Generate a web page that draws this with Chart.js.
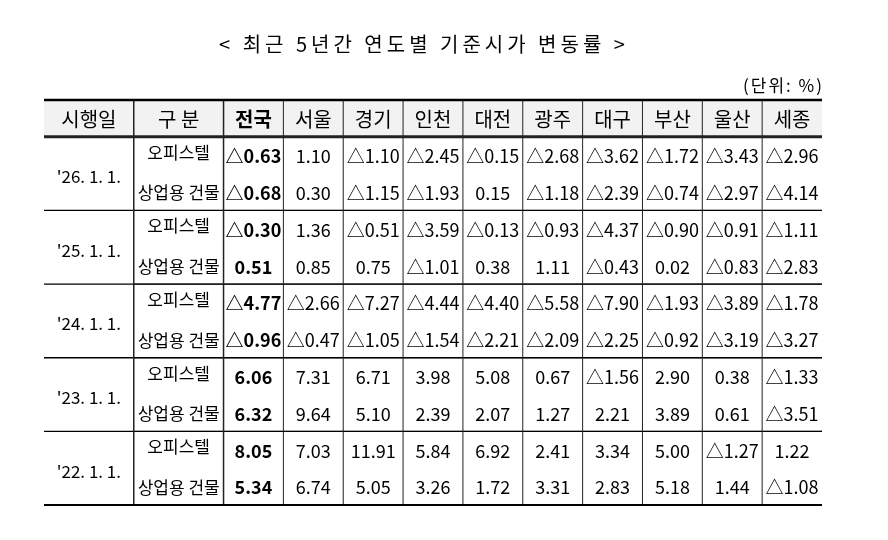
<!DOCTYPE html>
<html><head><meta charset="utf-8">
<script src="https://cdn.jsdelivr.net/npm/chart.js@4/dist/chart.umd.min.js"></script>
<style>body{margin:0;background:#fff}</style></head>
<body><canvas id="c" width="888" height="540"></canvas>
<script>
const title = "< 최근 5년간 연도별 기준시가 변동률 >";
const unitLabel = "(단위: %)";
const headers = ["시행일","구 분","전국","서울","경기","인천","대전","광주","대구","부산","울산","세종"];
const dates = ["'26. 1. 1.","'25. 1. 1.","'24. 1. 1.","'23. 1. 1.","'22. 1. 1."];
const kinds = ["오피스텔","상업용 건물"];
const off26 = [-0.63,1.10,-1.10,-2.45,-0.15,-2.68,-3.62,-1.72,-3.43,-2.96];
const com26 = [-0.68,0.30,-1.15,-1.93,0.15,-1.18,-2.39,-0.74,-2.97,-4.14];
const off25 = [-0.30,1.36,-0.51,-3.59,-0.13,-0.93,-4.37,-0.90,-0.91,-1.11];
const com25 = [0.51,0.85,0.75,-1.01,0.38,1.11,-0.43,0.02,-0.83,-2.83];
const off24 = [-4.77,-2.66,-7.27,-4.44,-4.40,-5.58,-7.90,-1.93,-3.89,-1.78];
const com24 = [-0.96,-0.47,-1.05,-1.54,-2.21,-2.09,-2.25,-0.92,-3.19,-3.27];
const off23 = [6.06,7.31,6.71,3.98,5.08,0.67,-1.56,2.90,0.38,-1.33];
const com23 = [6.32,9.64,5.10,2.39,2.07,1.27,2.21,3.89,0.61,-3.51];
const off22 = [8.05,7.03,11.91,5.84,6.92,2.41,3.34,5.00,-1.27,1.22];
const com22 = [5.34,6.74,5.05,3.26,1.72,3.31,2.83,5.18,1.44,-1.08];
const rows = [off26,com26,off25,com25,off24,com24,off23,com23,off22,com22];

const colEdges = [0,1.5,3,4,5,6,7,8,9,10,11,12,13];
const F = '"Noto Sans CJK KR", "Noto Sans", sans-serif';
const fmt = v => (v<0?'△':'') + Math.abs(v).toFixed(2);

const tablePlugin = {
  id:'table',
  afterDraw(chart){
    const ctx = chart.ctx, xs = chart.scales.x, ys = chart.scales.y;
    const X = v => xs.getPixelForValue(v), Y = v => ys.getPixelForValue(v);
    ctx.save();
    ctx.fillStyle = '#f2f2f2';
    ctx.fillRect(X(0), Y(0), X(13)-X(0), Y(1)-Y(0));
    ctx.fillStyle = '#000'; ctx.textBaseline='middle';
    ctx.font = '20px '+F; ctx.textAlign='center';
    ctx.letterSpacing = '4px';
    ctx.fillText(title, 424, 44);
    ctx.letterSpacing = '2px';
    ctx.font = '17px '+F; ctx.textAlign='right';
    ctx.fillText(unitLabel, 824, 86);
    ctx.letterSpacing = '0px';
    const hline = (y,x0,x1,w,c)=>{ctx.strokeStyle=c;ctx.lineWidth=w;ctx.beginPath();ctx.moveTo(X(x0),Y(y));ctx.lineTo(X(x1),Y(y));ctx.stroke();};
    for(let r=2;r<=10;r+=2){ hline(r+1,1.5,13,1,'#222'); }
    for(let r=3;r<=9;r+=2){ hline(r,0,13,1.3,'#000'); }
    colEdges.slice(1,-1).forEach(c=>{
      ctx.strokeStyle = '#222'; ctx.lineWidth = c<=3?1.5:1;
      ctx.beginPath(); ctx.moveTo(X(c),Y(0)); ctx.lineTo(X(c),Y(11)); ctx.stroke();
    });
    hline(0,0,13,2.5,'#000');
    hline(1,0,13,3,'#222');
    hline(11,0,13,2,'#000');
    ctx.textAlign='center';
    headers.forEach((h,i)=>{
      ctx.font = (i===2?'bold ':'')+'20px '+F;
      ctx.fillText(h,(X(colEdges[i])+X(colEdges[i+1]))/2, Y(0.5)+1);
    });
    ctx.font = '17px '+F;
    dates.forEach((d,i)=>ctx.fillText(d,(X(0)+X(1.5))/2, Y(2*i+2)+3));
    rows.forEach((row,r)=>{
      const yc = Y(r+1.5)+1;
      ctx.font = '17px '+F;
      ctx.fillText(kinds[r%2],(X(1.5)+X(3))/2, yc - (r%2?0:4));
      row.forEach((v,i)=>{
        ctx.font = (i===0?'bold ':'')+'18px '+F;
        ctx.fillText(fmt(v),(X(colEdges[i+2])+X(colEdges[i+3]))/2, yc);
      });
    });
    ctx.restore();
  }
};

new Chart(document.getElementById('c'),{
  type:'scatter',
  data:{datasets:[{data:[]}]},
  options:{
    responsive:false, animation:false,
    layout:{padding:{left:44,right:66,top:100,bottom:35}},
    plugins:{legend:{display:false},tooltip:{enabled:false}},
    scales:{
      x:{type:'linear',min:0,max:13,display:false},
      y:{type:'linear',min:0,max:11,reverse:true,display:false}
    }
  },
  plugins:[tablePlugin]
});
</script></body></html>
